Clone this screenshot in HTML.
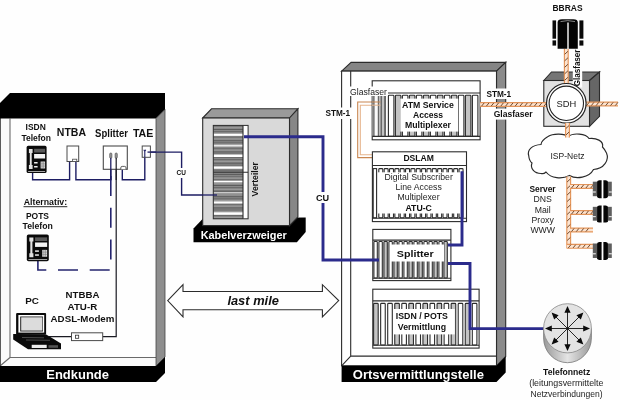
<!DOCTYPE html>
<html><head><meta charset="utf-8"><title>ADSL</title>
<style>html,body{margin:0;padding:0;background:#fff}svg{display:block}</style></head><body>
<svg width="620" height="400" viewBox="0 0 620 400" font-family="Liberation Sans, sans-serif">
<rect width="620" height="400" fill="#fefefe"/>
<defs><filter id="soft" x="0" y="0" width="100%" height="100%" filterUnits="userSpaceOnUse" color-interpolation-filters="sRGB"><feGaussianBlur stdDeviation="0.42"/></filter></defs>
<g filter="url(#soft)">
<g id="endkunde">
<polygon points="0,118.5 10,118.5 10,357 0,366" fill="#fafafa"/>
<polygon points="10,357.5 156,357.5 156,366 0,366" fill="#fafafa"/>
<path d="M10,118.5V357.5H156M10,357.5L0,366" stroke="#6a6a6a" stroke-width="1.1" fill="none"/>
<path d="M0.4,103V382" stroke="#333" stroke-width="0.9"/>
<polygon points="10,93 165,93 165,109.5 156,118.5 0,118.5 0,103" fill="#000"/>
<polygon points="156,118.5 165,109.5 165,357 156,366" fill="#8e8e8e" stroke="#444" stroke-width="0.8"/>
<polygon points="0,366 156,366 165,357 165,373 156,382 0,382" fill="#000"/>
<text x="46.3" y="378.8" font-size="13" font-weight="bold"  fill="#fff" text-anchor="start" textLength="62.7" lengthAdjust="spacingAndGlyphs" >Endkunde</text>
</g>
<g fill="none" stroke="#1d1d63" stroke-width="1.4">
<path d="M32.6,172V179.7H69.6V161.5"/>
<path d="M75.9,161.5V179.7H110.8V158"/>
<path d="M122.3,169V179.7H144.8V152"/>
<path d="M147.5,152.1H181.6V168M181.6,178V195H217"/>
<path d="M110.8,176V270H37.9V261" stroke-dasharray="20 11.7" stroke="#24246e" stroke-width="1.6"/>
</g>
<path d="M116.2,158V336.7H102.7M71.5,336.7H49" fill="none" stroke="#1a1a22" stroke-width="1.2"/>
<g transform="translate(26.6,145.8) scale(1.0,1.0)">
<rect x="0" y="0" width="20" height="27.2" rx="1.6" fill="#0a0a0a"/>
<path d="M2.3,3.2h3.7v4h-0.9v12h0.9v4h-3.7v-4h0.9v-12h-0.9z" fill="#e2e2e2"/>
<rect x="7.5" y="3" width="11" height="3.7" fill="#5a5a5a"/>
<rect x="7.5" y="8.2" width="11" height="4.5" fill="#f4f4f4"/>
<rect x="7.5" y="16.2" width="3.5" height="1.5" fill="#eee"/>
<rect x="7.5" y="20.2" width="3.5" height="1.5" fill="#eee"/>
<rect x="14" y="15.7" width="4.5" height="7" fill="#d8d8d8"/>
<path d="M15.5,15.7v7M17,15.7v7M14,18h4.5M14,20.3h4.5" stroke="#777" stroke-width="0.5"/>
<rect x="1.5" y="25.2" width="17" height="0.8" fill="#ccc"/>
</g>
<rect x="67" y="146" width="11.7" height="15.5" fill="#fff" stroke="#4a4a4a" stroke-width="1"/>
<rect x="72.6" y="159.2" width="4.2" height="2.3" fill="#fff" stroke="#4a4a4a" stroke-width="0.8"/>
<rect x="103.3" y="146" width="24" height="23.3" fill="#fff" stroke="#4a4a4a" stroke-width="1.1"/>
<rect x="109.7" y="153" width="2.2" height="5.2" rx="1" fill="#999" stroke="#444" stroke-width="0.6"/>
<rect x="115.1" y="153" width="2.2" height="5.2" rx="1" fill="#999" stroke="#444" stroke-width="0.6"/>
<path d="M110.8,158V180" stroke="#1d1d63" stroke-width="1.3"/>
<path d="M116.2,158V180" stroke="#1a1a22" stroke-width="1.2"/>
<path d="M120.8,169.3v-1.5a1.4,1.4 0 0 1 1.4,-1.4h2.4a1.4,1.4 0 0 1 1.4,1.4v1.5" fill="#fff" stroke="#333" stroke-width="0.8"/>
<rect x="142.2" y="146" width="8.2" height="11.3" fill="#fff" stroke="#4a4a4a" stroke-width="1"/>
<path d="M144.8,157.3V150.5M143.8,149.8l1,1.4l1,-1.4" stroke="#1d1d63" stroke-width="1.1" fill="none"/>
<path d="M147.5,152.1H156" stroke="#1d1d63" stroke-width="1.3"/>
<g transform="translate(26.8,234.4) scale(1.1,0.9852941176470589)">
<rect x="0" y="0" width="20" height="27.2" rx="1.6" fill="#0a0a0a"/>
<path d="M2.3,3.2h3.7v4h-0.9v12h0.9v4h-3.7v-4h0.9v-12h-0.9z" fill="#e2e2e2"/>
<rect x="7.5" y="3" width="11" height="3.7" fill="#5a5a5a"/>
<rect x="7.5" y="8.2" width="11" height="4.5" fill="#f4f4f4"/>
<rect x="7.5" y="16.2" width="3.5" height="1.5" fill="#eee"/>
<rect x="7.5" y="20.2" width="3.5" height="1.5" fill="#eee"/>
<rect x="14" y="15.7" width="4.5" height="7" fill="#d8d8d8"/>
<path d="M15.5,15.7v7M17,15.7v7M14,18h4.5M14,20.3h4.5" stroke="#777" stroke-width="0.5"/>
<rect x="1.5" y="25.2" width="17" height="0.8" fill="#ccc"/>
</g>
<g id="laptop">
<rect x="16.1" y="313.1" width="30" height="21.6" rx="1" fill="#0a0a0a"/>
<rect x="18.4" y="315" width="25.8" height="17.6" fill="#fff"/>
<rect x="20.2" y="316.5" width="22.8" height="15" fill="#222"/>
<rect x="21.2" y="317.3" width="21.2" height="13.3" fill="#dcdcdc"/>
<polygon points="13.2,334 46.2,334.4 61,343.5 61,349.3 28,349.3 13.2,339.4" fill="#0a0a0a"/>
<rect x="31.7" y="344.8" width="15" height="3.2" fill="#eee"/>
<rect x="48.5" y="345.2" width="9.5" height="2.6" fill="#555"/>
<path d="M22,337.5l22,0.3M26,340l24,0.3" stroke="#666" stroke-width="0.7"/>
</g>
<rect x="71.5" y="332.8" width="31.2" height="7.8" fill="#fff" stroke="#4a4a4a" stroke-width="1"/>
<rect x="75.4" y="335.2" width="3.3" height="3.1" fill="#fff" stroke="#333" stroke-width="0.8"/>
<text x="25.6" y="130.4" font-size="8.6" font-weight="bold"  fill="#111" text-anchor="start" textLength="20.2" lengthAdjust="spacingAndGlyphs" >ISDN</text>
<text x="21.4" y="141" font-size="8.6" font-weight="bold"  fill="#111" text-anchor="start" textLength="29.6" lengthAdjust="spacingAndGlyphs" >Telefon</text>
<text x="56.8" y="136.4" font-size="10.3" font-weight="bold"  fill="#111" text-anchor="start" textLength="29.2" lengthAdjust="spacingAndGlyphs" >NTBA</text>
<text x="95.1" y="136.5" font-size="10.3" font-weight="bold"  fill="#111" text-anchor="start" textLength="32.8" lengthAdjust="spacingAndGlyphs" >Splitter</text>
<text x="132.9" y="136.5" font-size="10.3" font-weight="bold"  fill="#111" text-anchor="start" textLength="20.4" lengthAdjust="spacingAndGlyphs" >TAE</text>
<text x="23.7" y="205.3" font-size="8.6" font-weight="bold"  fill="#111" text-anchor="start" textLength="43.5" lengthAdjust="spacingAndGlyphs" >Alternativ:</text>
<path d="M23.5,206.7H67.3" stroke="#111" stroke-width="0.9"/>
<text x="25.9" y="218.9" font-size="8.6" font-weight="bold"  fill="#111" text-anchor="start" textLength="23.1" lengthAdjust="spacingAndGlyphs" >POTS</text>
<text x="22.6" y="229.3" font-size="8.6" font-weight="bold"  fill="#111" text-anchor="start" textLength="30.3" lengthAdjust="spacingAndGlyphs" >Telefon</text>
<text x="25.2" y="303.9" font-size="9.6" font-weight="bold"  fill="#111" text-anchor="start" textLength="13.7" lengthAdjust="spacingAndGlyphs" >PC</text>
<text x="65.6" y="298.3" font-size="9.6" font-weight="bold"  fill="#111" text-anchor="start" textLength="33.8" lengthAdjust="spacingAndGlyphs" >NTBBA</text>
<text x="67.6" y="309.8" font-size="9.6" font-weight="bold"  fill="#111" text-anchor="start" textLength="29.6" lengthAdjust="spacingAndGlyphs" >ATU-R</text>
<text x="50.6" y="321.7" font-size="9.6" font-weight="bold"  fill="#111" text-anchor="start" textLength="63.8" lengthAdjust="spacingAndGlyphs" >ADSL-Modem</text>
<rect x="175" y="168" width="13" height="10" fill="#fefefe"/>
<text x="176.6" y="175.2" font-size="6.6" font-weight="bold"  fill="#111" text-anchor="start" textLength="9.4" lengthAdjust="spacingAndGlyphs" >CU</text>
<g id="kvz">
<polygon points="193.5,228.5 203,218.5 305.7,217.5 305.7,232 296.9,242.2 193.5,242.2" fill="#000"/>
<polygon points="202.7,118 211.5,108.8 297.9,108.8 289.5,118" fill="#9a9a9a" stroke="#2c2c2c" stroke-width="1.1"/>
<polygon points="289.5,118 297.9,108.8 297.9,217 289.5,225.6" fill="#878787" stroke="#2c2c2c" stroke-width="1.1"/>
<rect x="202.7" y="118" width="86.8" height="107.6" fill="#d9d9d9" stroke="#2c2c2c" stroke-width="1.1"/>
<defs><pattern id="strp" x="213" y="125.4" width="30" height="5.6" patternUnits="userSpaceOnUse"><rect width="30" height="5.6" fill="#8b8b8b"/><rect y="0.3" width="30" height="0.8" fill="#5a5a5a"/><rect y="2.2" width="30" height="0.7" fill="#a8a8a8"/><rect y="3.6" width="30" height="0.9" fill="#4c4c4c"/></pattern></defs>
<rect x="213.3" y="125.4" width="29.7" height="93.4" fill="url(#strp)"/>
<rect x="213.3" y="133.8" width="29.7" height="2.1" fill="#fff"/>
<rect x="213.3" y="144.9" width="29.7" height="1.8" fill="#e8e8e8"/>
<rect x="213.3" y="154.5" width="29.7" height="2.6" fill="#fff"/>
<rect x="213.3" y="166.5" width="29.7" height="2.3" fill="#fff"/>
<rect x="213.3" y="180.7" width="29.7" height="1.7" fill="#fff"/>
<rect x="213.3" y="192.1" width="29.7" height="1.3" fill="#d4d4d4"/>
<rect x="213.3" y="201.4" width="29.7" height="2.1" fill="#fff"/>
<rect x="213.3" y="212.3" width="29.7" height="2.5" fill="#fff"/>
<rect x="243" y="125.4" width="5.1" height="93.4" fill="#fff"/>
<path d="M213.3,172.3H248.1M243,125.4V218.8" stroke="#2c2c2c" stroke-width="1.1"/>
<rect x="213.3" y="125.4" width="34.8" height="93.4" fill="none" stroke="#2c2c2c" stroke-width="1"/>
<text x="0" y="0" font-size="8.6" font-weight="bold"  fill="#111" text-anchor="start" textLength="34.4" lengthAdjust="spacingAndGlyphs" transform="translate(257.6,196.4) rotate(-90)">Verteiler</text>
<text x="200.7" y="238.8" font-size="11" font-weight="bold"  fill="#fff" text-anchor="start" textLength="86" lengthAdjust="spacingAndGlyphs" >Kabelverzweiger</text>
</g>
<path d="M202,195H217" stroke="#1d1d63" stroke-width="1.3"/>
<polygon points="167.7,300.6 183,284.7 183,291.5 322.4,291.5 322.4,284.7 338.7,300.6 322.4,316.9 322.4,309.8 183,309.8 183,316.9" fill="#fff" stroke="#2c2c2c" stroke-width="1.1"/>
<text x="227.4" y="304.7" font-size="13" font-weight="bold" font-style="italic" fill="#111" text-anchor="start" textLength="51.5" lengthAdjust="spacingAndGlyphs" >last mile</text>
<g id="ovst">
<polygon points="341.6,71.1 351.1,62.4 505.7,62.4 496.5,71.1" fill="#858585" stroke="#2c2c2c" stroke-width="1.1"/>
<polygon points="496.5,71.1 505.7,62.4 505.7,356.5 496.5,365.8" fill="#8b8b8b" stroke="#2c2c2c" stroke-width="1.1"/>
<rect x="341.6" y="71.1" width="154.9" height="294.7" fill="#fff" stroke="#2c2c2c" stroke-width="1.1"/>
<path d="M350.7,71.1V356.1H496.5M350.7,356.1L341.6,365.8" stroke="#2c2c2c" stroke-width="1.1" fill="none"/>
<polygon points="341.6,365.8 496.5,365.8 505.7,356.5 505.7,372.5 496.5,381.9 341.6,381.9" fill="#000"/>
<text x="352.8" y="378.5" font-size="13" font-weight="bold"  fill="#fff" text-anchor="start" textLength="131.1" lengthAdjust="spacingAndGlyphs" >Ortsvermittlungstelle</text>
</g>
<path d="M373,102H357.7V157.6H373" fill="none" stroke="#c98650" stroke-width="1.1"/>
<path d="M373,105.2H360.3V154.8H373" fill="none" stroke="#e6b48c" stroke-width="1.1"/>
<g id="atm">
<rect x="372.2" y="80.8" width="107.9" height="59" fill="#fff" stroke="#2c2c2c" stroke-width="1.1"/>
<path d="M388,93H480.1" stroke="#2c2c2c" stroke-width="1.1"/>
<rect x="372.2" y="95.2" width="14" height="41.2" fill="#e4e4e4"/>
<rect x="372.2" y="95.2" width="2.60" height="41.2" fill="#7c7c7c"/>
<rect x="374.8" y="95.2" width="3.00" height="41.2" fill="#fafafa"/>
<rect x="377.8" y="95.2" width="1.50" height="41.2" fill="#686868"/>
<rect x="380.4" y="95.2" width="1.90" height="41.2" fill="#686868"/>
<rect x="382.3" y="95.2" width="1.80" height="41.2" fill="#c4c4c4"/>
<rect x="384.1" y="95.2" width="1.90" height="41.2" fill="#686868"/>
<rect x="386" y="93.4" width="2" height="43" fill="#fff"/>
<rect x="388.40" y="95.2" width="5.5" height="41.2" rx="0.8" fill="#fff" stroke="#2c2c2c" stroke-width="1.1"/>
<rect x="395.40" y="95.2" width="5.5" height="41.2" rx="0.8" fill="#c4c4c4" stroke="#2c2c2c" stroke-width="1.1"/>
<rect x="402.40" y="95.2" width="5.5" height="41.2" rx="0.8" fill="#fff" stroke="#2c2c2c" stroke-width="1.1"/>
<rect x="409.40" y="95.2" width="5.5" height="41.2" rx="0.8" fill="#c4c4c4" stroke="#2c2c2c" stroke-width="1.1"/>
<rect x="416.40" y="95.2" width="5.5" height="41.2" rx="0.8" fill="#fff" stroke="#2c2c2c" stroke-width="1.1"/>
<rect x="423.40" y="95.2" width="5.5" height="41.2" rx="0.8" fill="#c4c4c4" stroke="#2c2c2c" stroke-width="1.1"/>
<rect x="430.40" y="95.2" width="5.5" height="41.2" rx="0.8" fill="#fff" stroke="#2c2c2c" stroke-width="1.1"/>
<rect x="437.40" y="95.2" width="5.5" height="41.2" rx="0.8" fill="#c4c4c4" stroke="#2c2c2c" stroke-width="1.1"/>
<rect x="444.40" y="95.2" width="5.5" height="41.2" rx="0.8" fill="#fff" stroke="#2c2c2c" stroke-width="1.1"/>
<rect x="451.40" y="95.2" width="5.5" height="41.2" rx="0.8" fill="#c4c4c4" stroke="#2c2c2c" stroke-width="1.1"/>
<rect x="458.40" y="95.2" width="5.5" height="41.2" rx="0.8" fill="#fff" stroke="#2c2c2c" stroke-width="1.1"/>
<rect x="465.40" y="95.2" width="5.5" height="41.2" rx="0.8" fill="#c4c4c4" stroke="#2c2c2c" stroke-width="1.1"/>
<rect x="472.40" y="95.2" width="5.5" height="41.2" rx="0.8" fill="#fff" stroke="#2c2c2c" stroke-width="1.1"/>
<rect x="400.3" y="98.6" width="58" height="33" fill="#fff"/>
<path d="M372.2,136.4H480.1" stroke="#2c2c2c" stroke-width="1.1"/>
<path d="M372,102H380.5" stroke="#c98650" stroke-width="1.2" opacity="0.85"/><path d="M372,105.2H380.5" stroke="#e6b48c" stroke-width="1.2" opacity="0.85"/>
<text x="402" y="107.7" font-size="8.6" font-weight="bold"  fill="#111" text-anchor="start" textLength="51.8" lengthAdjust="spacingAndGlyphs" >ATM Service</text>
<text x="428" y="117.5" font-size="8.6" font-weight="bold"  fill="#111" text-anchor="middle" >Access</text>
<text x="405" y="127.5" font-size="8.6" font-weight="bold"  fill="#111" text-anchor="start" textLength="45.9" lengthAdjust="spacingAndGlyphs" >Multiplexer</text>
</g>
<rect x="349" y="86.5" width="39" height="9.5" fill="#fff"/>
<text x="350" y="94.9" font-size="8.7"   fill="#1c1c1c" text-anchor="start" textLength="37" lengthAdjust="spacingAndGlyphs" >Glasfaser</text>
<rect x="324" y="107.5" width="28" height="11.5" fill="#fefefe"/>
<text x="325.4" y="115.9" font-size="8.6" font-weight="bold"  fill="#111" text-anchor="start" textLength="24.7" lengthAdjust="spacingAndGlyphs" >STM-1</text>
<g id="dslam">
<rect x="372.4" y="151.8" width="94.1" height="69.8" fill="#fff" stroke="#2c2c2c" stroke-width="1.1"/>
<path d="M372.4,165.5H466.5" stroke="#2c2c2c" stroke-width="1.1"/>
<rect x="373.2" y="168.6" width="3.4" height="49.2" fill="#fff" stroke="#2c2c2c" stroke-width="1.1"/>
<rect x="378.80" y="168.6" width="4.0" height="49.20000000000002" rx="0.8" fill="#fff" stroke="#2c2c2c" stroke-width="1.1"/>
<rect x="384.15" y="168.6" width="4.0" height="49.20000000000002" rx="0.8" fill="#fff" stroke="#2c2c2c" stroke-width="1.1"/>
<rect x="389.50" y="168.6" width="4.0" height="49.20000000000002" rx="0.8" fill="#fff" stroke="#2c2c2c" stroke-width="1.1"/>
<rect x="394.85" y="168.6" width="4.0" height="49.20000000000002" rx="0.8" fill="#fff" stroke="#2c2c2c" stroke-width="1.1"/>
<rect x="400.20" y="168.6" width="4.0" height="49.20000000000002" rx="0.8" fill="#fff" stroke="#2c2c2c" stroke-width="1.1"/>
<rect x="405.55" y="168.6" width="4.0" height="49.20000000000002" rx="0.8" fill="#fff" stroke="#2c2c2c" stroke-width="1.1"/>
<rect x="410.90" y="168.6" width="4.0" height="49.20000000000002" rx="0.8" fill="#fff" stroke="#2c2c2c" stroke-width="1.1"/>
<rect x="416.25" y="168.6" width="4.0" height="49.20000000000002" rx="0.8" fill="#fff" stroke="#2c2c2c" stroke-width="1.1"/>
<rect x="421.60" y="168.6" width="4.0" height="49.20000000000002" rx="0.8" fill="#fff" stroke="#2c2c2c" stroke-width="1.1"/>
<rect x="426.95" y="168.6" width="4.0" height="49.20000000000002" rx="0.8" fill="#fff" stroke="#2c2c2c" stroke-width="1.1"/>
<rect x="432.30" y="168.6" width="4.0" height="49.20000000000002" rx="0.8" fill="#fff" stroke="#2c2c2c" stroke-width="1.1"/>
<rect x="437.65" y="168.6" width="4.0" height="49.20000000000002" rx="0.8" fill="#fff" stroke="#2c2c2c" stroke-width="1.1"/>
<rect x="443.00" y="168.6" width="4.0" height="49.20000000000002" rx="0.8" fill="#fff" stroke="#2c2c2c" stroke-width="1.1"/>
<rect x="448.35" y="168.6" width="4.0" height="49.20000000000002" rx="0.8" fill="#fff" stroke="#2c2c2c" stroke-width="1.1"/>
<rect x="453.70" y="168.6" width="4.0" height="49.20000000000002" rx="0.8" fill="#fff" stroke="#2c2c2c" stroke-width="1.1"/>
<rect x="459.05" y="168.6" width="4.0" height="49.20000000000002" rx="0.8" fill="#fff" stroke="#2c2c2c" stroke-width="1.1"/>
<rect x="378" y="172.3" width="82.4" height="41.2" fill="#fff"/>
<path d="M372.4,218.3H466.5" stroke="#2c2c2c" stroke-width="1.1"/>
<text x="403.4" y="161.3" font-size="8.6" font-weight="bold"  fill="#111" text-anchor="start" textLength="30.5" lengthAdjust="spacingAndGlyphs" >DSLAM</text>
<text x="384.5" y="179.7" font-size="8.7"   fill="#1c1c1c" text-anchor="start" textLength="68.3" lengthAdjust="spacingAndGlyphs" >Digital Subscriber</text>
<text x="418.6" y="190" font-size="8.7"   fill="#1c1c1c" text-anchor="middle" >Line Access</text>
<text x="418.6" y="200.3" font-size="8.7"   fill="#1c1c1c" text-anchor="middle" >Multiplexer</text>
<text x="405.4" y="210.8" font-size="8.6" font-weight="bold"  fill="#111" text-anchor="start" textLength="26.5" lengthAdjust="spacingAndGlyphs" >ATU-C</text>
</g>
<g id="split">
<rect x="372.8" y="229.4" width="78.1" height="51.2" fill="#fff" stroke="#2c2c2c" stroke-width="1.1"/>
<path d="M372.8,240.1H450.9" stroke="#2c2c2c" stroke-width="1.1"/>
<rect x="373.90" y="241.5" width="3.4" height="36.5" rx="0.8" fill="#fff" stroke="#2c2c2c" stroke-width="1.1"/>
<rect x="378.90" y="241.5" width="3.4" height="36.5" rx="0.8" fill="#fff" stroke="#2c2c2c" stroke-width="1.1"/>
<rect x="383.90" y="241.5" width="3.4" height="36.5" rx="0.8" fill="#c4c4c4" stroke="#2c2c2c" stroke-width="1.1"/>
<rect x="388.90" y="241.5" width="3.4" height="36.5" rx="0.8" fill="#fff" stroke="#2c2c2c" stroke-width="1.1"/>
<rect x="393.90" y="241.5" width="3.4" height="36.5" rx="0.8" fill="#c4c4c4" stroke="#2c2c2c" stroke-width="1.1"/>
<rect x="398.90" y="241.5" width="3.4" height="36.5" rx="0.8" fill="#fff" stroke="#2c2c2c" stroke-width="1.1"/>
<rect x="403.90" y="241.5" width="3.4" height="36.5" rx="0.8" fill="#fff" stroke="#2c2c2c" stroke-width="1.1"/>
<rect x="408.90" y="241.5" width="3.4" height="36.5" rx="0.8" fill="#c4c4c4" stroke="#2c2c2c" stroke-width="1.1"/>
<rect x="413.90" y="241.5" width="3.4" height="36.5" rx="0.8" fill="#fff" stroke="#2c2c2c" stroke-width="1.1"/>
<rect x="418.90" y="241.5" width="3.4" height="36.5" rx="0.8" fill="#c4c4c4" stroke="#2c2c2c" stroke-width="1.1"/>
<rect x="423.90" y="241.5" width="3.4" height="36.5" rx="0.8" fill="#fff" stroke="#2c2c2c" stroke-width="1.1"/>
<rect x="428.90" y="241.5" width="3.4" height="36.5" rx="0.8" fill="#fff" stroke="#2c2c2c" stroke-width="1.1"/>
<rect x="433.90" y="241.5" width="3.4" height="36.5" rx="0.8" fill="#c4c4c4" stroke="#2c2c2c" stroke-width="1.1"/>
<rect x="438.90" y="241.5" width="3.4" height="36.5" rx="0.8" fill="#fff" stroke="#2c2c2c" stroke-width="1.1"/>
<rect x="443.90" y="241.5" width="3.4" height="36.5" rx="0.8" fill="#c4c4c4" stroke="#2c2c2c" stroke-width="1.1"/>
<rect x="390.4" y="244.5" width="53.6" height="17" fill="#fff"/>
<path d="M372.8,278.2H450.9" stroke="#2c2c2c" stroke-width="1.1"/>
<text x="396.8" y="256.6" font-size="9.8" font-weight="bold"  fill="#111" text-anchor="start" textLength="36.9" lengthAdjust="spacingAndGlyphs" >Splitter</text>
</g>
<g id="isdn">
<rect x="372.8" y="289.2" width="106.3" height="58.9" fill="#fff" stroke="#2c2c2c" stroke-width="1.1"/>
<path d="M372.8,300.9H479.1" stroke="#2c2c2c" stroke-width="1.1"/>
<rect x="373.60" y="303.4" width="4.6" height="41.60000000000002" rx="0.8" fill="#c4c4c4" stroke="#2c2c2c" stroke-width="1.1"/>
<rect x="380.65" y="303.4" width="4.6" height="41.60000000000002" rx="0.8" fill="#fff" stroke="#2c2c2c" stroke-width="1.1"/>
<rect x="387.70" y="303.4" width="4.6" height="41.60000000000002" rx="0.8" fill="#fff" stroke="#2c2c2c" stroke-width="1.1"/>
<rect x="394.75" y="303.4" width="4.6" height="41.60000000000002" rx="0.8" fill="#c4c4c4" stroke="#2c2c2c" stroke-width="1.1"/>
<rect x="401.80" y="303.4" width="4.6" height="41.60000000000002" rx="0.8" fill="#fff" stroke="#2c2c2c" stroke-width="1.1"/>
<rect x="408.85" y="303.4" width="4.6" height="41.60000000000002" rx="0.8" fill="#c4c4c4" stroke="#2c2c2c" stroke-width="1.1"/>
<rect x="415.90" y="303.4" width="4.6" height="41.60000000000002" rx="0.8" fill="#fff" stroke="#2c2c2c" stroke-width="1.1"/>
<rect x="422.95" y="303.4" width="4.6" height="41.60000000000002" rx="0.8" fill="#c4c4c4" stroke="#2c2c2c" stroke-width="1.1"/>
<rect x="430.00" y="303.4" width="4.6" height="41.60000000000002" rx="0.8" fill="#fff" stroke="#2c2c2c" stroke-width="1.1"/>
<rect x="437.05" y="303.4" width="4.6" height="41.60000000000002" rx="0.8" fill="#c4c4c4" stroke="#2c2c2c" stroke-width="1.1"/>
<rect x="444.10" y="303.4" width="4.6" height="41.60000000000002" rx="0.8" fill="#fff" stroke="#2c2c2c" stroke-width="1.1"/>
<rect x="451.15" y="303.4" width="4.6" height="41.60000000000002" rx="0.8" fill="#c4c4c4" stroke="#2c2c2c" stroke-width="1.1"/>
<rect x="458.20" y="303.4" width="4.6" height="41.60000000000002" rx="0.8" fill="#fff" stroke="#2c2c2c" stroke-width="1.1"/>
<rect x="465.25" y="303.4" width="4.6" height="41.60000000000002" rx="0.8" fill="#c4c4c4" stroke="#2c2c2c" stroke-width="1.1"/>
<rect x="472.30" y="303.4" width="4.6" height="41.60000000000002" rx="0.8" fill="#fff" stroke="#2c2c2c" stroke-width="1.1"/>
<rect x="393.3" y="309" width="61.5" height="25.4" fill="#fff"/>
<path d="M372.8,345.2H479.1" stroke="#2c2c2c" stroke-width="1.1"/>
<text x="395.8" y="319.4" font-size="8.6" font-weight="bold"  fill="#111" text-anchor="start" textLength="52.1" lengthAdjust="spacingAndGlyphs" >ISDN / POTS</text>
<text x="397.8" y="329.9" font-size="8.6" font-weight="bold"  fill="#111" text-anchor="start" textLength="48.2" lengthAdjust="spacingAndGlyphs" >Vermittlung</text>
</g>
<g fill="none" stroke="#2b2b8c" stroke-width="2.9" stroke-linejoin="miter">
<path d="M244,136.8H323V192M323,203V260H379"/>
<path d="M462,171.3V245H448"/>
<path d="M448,263.5H470V328.6H544"/>
</g>
<rect x="315" y="192" width="16" height="11" fill="#fefefe"/>
<text x="316" y="201.2" font-size="8.8" font-weight="bold"  fill="#111" text-anchor="start" textLength="13.2" lengthAdjust="spacingAndGlyphs" >CU</text>
<g id="sdh">
<polygon points="543.8,80.5 551.5,72 599.5,72 589.5,80.5" fill="#757575" stroke="#2c2c2c" stroke-width="1.1"/>
<polygon points="589.5,80.5 599.5,72 599.5,116.3 589.5,126.3" fill="#666" stroke="#2c2c2c" stroke-width="1.1"/>
<rect x="543.8" y="80.5" width="45.7" height="45.8" fill="#e2e2e2" stroke="#2c2c2c" stroke-width="1.1"/>
</g>
<rect x="480.1" y="102.6" width="66.89999999999998" height="3.8" fill="#fbe3d0"/>
<path d="M480.1,102.6H547M480.1,106.4H547" stroke="#e5955a" stroke-width="1.15" fill="none"/>
<path d="M481.6,106.10000000000001l2.6,-3.1999999999999997M486.4,106.10000000000001l2.6,-3.1999999999999997M491.2,106.10000000000001l2.6,-3.1999999999999997M496.0,106.10000000000001l2.6,-3.1999999999999997M500.8,106.10000000000001l2.6,-3.1999999999999997M505.6,106.10000000000001l2.6,-3.1999999999999997M510.4,106.10000000000001l2.6,-3.1999999999999997M515.2,106.10000000000001l2.6,-3.1999999999999997M520.0,106.10000000000001l2.6,-3.1999999999999997M524.8,106.10000000000001l2.6,-3.1999999999999997M529.6,106.10000000000001l2.6,-3.1999999999999997M534.4,106.10000000000001l2.6,-3.1999999999999997M539.2,106.10000000000001l2.6,-3.1999999999999997M544.0,106.10000000000001l2.6,-3.1999999999999997" stroke="#6a4326" stroke-width="0.95" fill="none"/>
<rect x="585" y="102.1" width="33" height="3.8" fill="#fbe3d0"/>
<path d="M585,102.1H618M585,105.9H618" stroke="#e5955a" stroke-width="1.15" fill="none"/>
<path d="M586.5,105.60000000000001l2.6,-3.1999999999999997M591.3,105.60000000000001l2.6,-3.1999999999999997M596.1,105.60000000000001l2.6,-3.1999999999999997M600.9,105.60000000000001l2.6,-3.1999999999999997M605.7,105.60000000000001l2.6,-3.1999999999999997M610.5,105.60000000000001l2.6,-3.1999999999999997M615.3,105.60000000000001l2.6,-3.1999999999999997" stroke="#6a4326" stroke-width="0.95" fill="none"/>
<rect x="564.4" y="48.8" width="3.8" height="35.2" fill="#fbe3d0"/>
<path d="M564.4,48.8V84M568.1999999999999,48.8V84" stroke="#e5955a" stroke-width="1.15" fill="none"/>
<path d="M564.6999999999999,54.3l3.1999999999999997,-3M564.6999999999999,60.8l3.1999999999999997,-3M564.6999999999999,67.3l3.1999999999999997,-3M564.6999999999999,73.8l3.1999999999999997,-3M564.6999999999999,80.3l3.1999999999999997,-3" stroke="#6a4326" stroke-width="0.95" fill="none"/>
<rect x="565.6" y="122" width="3.8" height="16" fill="#fbe3d0"/>
<path d="M565.6,122V138M569.4,122V138" stroke="#e5955a" stroke-width="1.15" fill="none"/>
<path d="M565.9,127.5l3.1999999999999997,-3M565.9,134.0l3.1999999999999997,-3" stroke="#6a4326" stroke-width="0.95" fill="none"/>
<rect x="572.8" y="49" width="9.4" height="38.5" fill="#fefefe"/>
<text x="0" y="0" font-size="8.6" font-weight="bold"  fill="#111" text-anchor="start" textLength="36.8" lengthAdjust="spacingAndGlyphs" transform="translate(580.3,86.3) rotate(-90)">Glasfaser</text>
<circle cx="566.3" cy="103.3" r="19.8" fill="#fff" stroke="#222" stroke-width="1.2"/>
<circle cx="566.3" cy="103.3" r="17.2" fill="#fff" stroke="#222" stroke-width="1.1"/>
<text x="566.3" y="107" font-size="9.4"   fill="#222" text-anchor="middle" >SDH</text>
<rect x="485" y="88.5" width="28" height="10.5" fill="#fefefe"/>
<text x="486.4" y="97.4" font-size="8.6" font-weight="bold"  fill="#111" text-anchor="start" textLength="24.8" lengthAdjust="spacingAndGlyphs" >STM-1</text>
<rect x="492.5" y="108.6" width="41" height="11" fill="#fefefe"/>
<text x="493.7" y="117.3" font-size="8.6" font-weight="bold"  fill="#111" text-anchor="start" textLength="39" lengthAdjust="spacingAndGlyphs" >Glasfaser</text>
<text x="552.5" y="10.7" font-size="8.6" font-weight="bold"  fill="#111" text-anchor="start" textLength="30.1" lengthAdjust="spacingAndGlyphs" >BBRAS</text>
<g id="bbras">
<rect x="552.5" y="20.4" width="3.6" height="18.3" fill="#0a0a0a"/><rect x="552.5" y="40.4" width="3.6" height="5.2" fill="#0a0a0a"/>
<rect x="579.4" y="20.4" width="4" height="18.3" fill="#0a0a0a"/><rect x="579.4" y="40.4" width="4" height="5.2" fill="#0a0a0a"/>
<path d="M557.6,22.5Q557.6,19.2 562,19.2H573.4Q577.8,19.2 577.8,22.5V48.8H557.6z" fill="#050505"/>
<rect x="567.3" y="22.5" width="1.4" height="26.5" fill="#fff"/>
<path d="M560.5,21.6Q567.7,19.6 575,21.6" stroke="#bbb" stroke-width="0.7" fill="none"/>
</g>
<path d="M568.5,136.5 C565,133.5 553,133 548,136.5 C543,139.5 541,142 541,144.5 C532,145 527,150 528.7,155.5 C529,159 530,161.5 532,163 C530,168 534,173.5 541,173.5 C543,174 545,173 546,172 C551,178.5 562,179.5 569.5,175.5 C576,179.5 589,178 593.5,169.5 C604,169 609.5,160 606.5,153 C605,150 603.5,148 602.5,147 C604,141 596,137.5 589,138.5 C586,133.5 573,132.5 568.5,136.5z" fill="#fff" stroke="#2a2a2a" stroke-width="1.15"/>
<rect x="565.6" y="123" width="3.8" height="14.599999999999994" fill="#fbe3d0"/>
<path d="M565.6,123V137.6M569.4,123V137.6" stroke="#e5955a" stroke-width="1.15" fill="none"/>
<path d="M565.9,128.5l3.1999999999999997,-3M565.9,135.0l3.1999999999999997,-3" stroke="#6a4326" stroke-width="0.95" fill="none"/>
<text x="550.5" y="159.3" font-size="9.2"   fill="#1c1c1c" text-anchor="start" textLength="34" lengthAdjust="spacingAndGlyphs" >ISP-Netz</text>
<rect x="566.8000000000001" y="176.5" width="3.8" height="71.69999999999999" fill="#fbe3d0"/>
<path d="M566.8000000000001,176.5V248.2M570.6,176.5V248.2" stroke="#e5955a" stroke-width="1.15" fill="none"/>
<path d="M567.1,182.0l3.1999999999999997,-3M567.1,188.5l3.1999999999999997,-3M567.1,195.0l3.1999999999999997,-3M567.1,201.5l3.1999999999999997,-3M567.1,208.0l3.1999999999999997,-3M567.1,214.5l3.1999999999999997,-3M567.1,221.0l3.1999999999999997,-3M567.1,227.5l3.1999999999999997,-3M567.1,234.0l3.1999999999999997,-3M567.1,240.5l3.1999999999999997,-3M567.1,247.0l3.1999999999999997,-3" stroke="#6a4326" stroke-width="0.95" fill="none"/>
<rect x="570" y="184.5" width="23.5" height="3.8" fill="#fbe3d0"/>
<path d="M570,184.5H593.5M570,188.3H593.5" stroke="#e5955a" stroke-width="1.15" fill="none"/>
<path d="M571.5,188.0l2.6,-3.1999999999999997M576.3,188.0l2.6,-3.1999999999999997M581.1,188.0l2.6,-3.1999999999999997M585.9,188.0l2.6,-3.1999999999999997M590.7,188.0l2.6,-3.1999999999999997" stroke="#6a4326" stroke-width="0.95" fill="none"/>
<rect x="570" y="210.6" width="23.5" height="3.8" fill="#fbe3d0"/>
<path d="M570,210.6H593.5M570,214.4H593.5" stroke="#e5955a" stroke-width="1.15" fill="none"/>
<path d="M571.5,214.1l2.6,-3.1999999999999997M576.3,214.1l2.6,-3.1999999999999997M581.1,214.1l2.6,-3.1999999999999997M585.9,214.1l2.6,-3.1999999999999997M590.7,214.1l2.6,-3.1999999999999997" stroke="#6a4326" stroke-width="0.95" fill="none"/>
<rect x="570" y="228.1" width="23" height="3.8" fill="#fbe3d0"/>
<path d="M570,228.1H593M570,231.9H593" stroke="#e5955a" stroke-width="1.15" fill="none"/>
<path d="M571.5,231.6l2.6,-3.1999999999999997M576.3,231.6l2.6,-3.1999999999999997M581.1,231.6l2.6,-3.1999999999999997M585.9,231.6l2.6,-3.1999999999999997" stroke="#6a4326" stroke-width="0.95" fill="none"/>
<rect x="566.8" y="244.4" width="26.700000000000045" height="3.8" fill="#fbe3d0"/>
<path d="M566.8,244.4H593.5M566.8,248.20000000000002H593.5" stroke="#e5955a" stroke-width="1.15" fill="none"/>
<path d="M568.3,247.9l2.6,-3.1999999999999997M573.1,247.9l2.6,-3.1999999999999997M577.9,247.9l2.6,-3.1999999999999997M582.7,247.9l2.6,-3.1999999999999997M587.5,247.9l2.6,-3.1999999999999997" stroke="#6a4326" stroke-width="0.95" fill="none"/>
<g transform="translate(592.8,180.2) scale(1.0,1.0)">
<rect x="0" y="1.5" width="4.6" height="14.5" fill="#5e5e5e"/>
<rect x="14.6" y="1.5" width="4.4" height="14.5" fill="#5e5e5e"/>
<rect x="0" y="11.3" width="3" height="1" fill="#fff"/>
<rect x="16" y="11.3" width="3" height="1" fill="#fff"/>
<path d="M4.3,1.4Q4.6,0.1 6.6,0H8.8V18H6.6Q4.6,17.9 4.3,16.6z" fill="#050505"/>
<path d="M15.1,1.4Q14.8,0.1 12.8,0H10.6V18H12.8Q14.8,17.9 15.1,16.6z" fill="#050505"/>
</g>
<g transform="translate(592.8,205.4) scale(1.0,0.9555555555555555)">
<rect x="0" y="1.5" width="4.6" height="14.5" fill="#5e5e5e"/>
<rect x="14.6" y="1.5" width="4.4" height="14.5" fill="#5e5e5e"/>
<rect x="0" y="11.3" width="3" height="1" fill="#fff"/>
<rect x="16" y="11.3" width="3" height="1" fill="#fff"/>
<path d="M4.3,1.4Q4.6,0.1 6.6,0H8.8V18H6.6Q4.6,17.9 4.3,16.6z" fill="#050505"/>
<path d="M15.1,1.4Q14.8,0.1 12.8,0H10.6V18H12.8Q14.8,17.9 15.1,16.6z" fill="#050505"/>
</g>
<g transform="translate(592.8,242) scale(1.0,1.0)">
<rect x="0" y="1.5" width="4.6" height="14.5" fill="#5e5e5e"/>
<rect x="14.6" y="1.5" width="4.4" height="14.5" fill="#5e5e5e"/>
<rect x="0" y="11.3" width="3" height="1" fill="#fff"/>
<rect x="16" y="11.3" width="3" height="1" fill="#fff"/>
<path d="M4.3,1.4Q4.6,0.1 6.6,0H8.8V18H6.6Q4.6,17.9 4.3,16.6z" fill="#050505"/>
<path d="M15.1,1.4Q14.8,0.1 12.8,0H10.6V18H12.8Q14.8,17.9 15.1,16.6z" fill="#050505"/>
</g>
<text x="529.4" y="192.3" font-size="8.6" font-weight="bold"  fill="#111" text-anchor="start" textLength="26.2" lengthAdjust="spacingAndGlyphs" >Server</text>
<text x="542.7" y="202.4" font-size="8.7"   fill="#1c1c1c" text-anchor="middle" >DNS</text>
<text x="542.7" y="212.6" font-size="8.7"   fill="#1c1c1c" text-anchor="middle" >Mail</text>
<text x="542.7" y="222.7" font-size="8.7"   fill="#1c1c1c" text-anchor="middle" >Proxy</text>
<text x="542.7" y="233.2" font-size="8.7"   fill="#1c1c1c" text-anchor="middle" >WWW</text>
<defs><linearGradient id="cyl" x1="0" x2="1" y1="0" y2="0"><stop offset="0" stop-color="#999"/><stop offset="0.5" stop-color="#e4e4e4"/><stop offset="1" stop-color="#9a9a9a"/></linearGradient></defs>
<path d="M543.6,328.5V337.9A23.9,24.8 0 0 0 591.4,337.9V328.5z" fill="url(#cyl)" stroke="#777" stroke-width="0.8"/>
<ellipse cx="567.5" cy="328.3" rx="23.9" ry="24.6" fill="#e3e3e3" stroke="#888" stroke-width="0.8"/>
<path d="M567.5,328.5L588.5,328.5" stroke="#111" stroke-width="0.9"/>
<polygon points="590.0,328.5 583.2,331.6 583.2,325.4" fill="#0a0a0a"/>
<path d="M567.5,328.5L582.3,343.3" stroke="#111" stroke-width="0.9"/>
<polygon points="583.4,344.4 576.4,341.8 580.8,337.4" fill="#0a0a0a"/>
<path d="M567.5,328.5L567.5,349.5" stroke="#111" stroke-width="0.9"/>
<polygon points="567.5,351.0 564.4,344.2 570.6,344.2" fill="#0a0a0a"/>
<path d="M567.5,328.5L552.7,343.3" stroke="#111" stroke-width="0.9"/>
<polygon points="551.6,344.4 554.2,337.4 558.6,341.8" fill="#0a0a0a"/>
<path d="M567.5,328.5L546.5,328.5" stroke="#111" stroke-width="0.9"/>
<polygon points="545.0,328.5 551.8,325.4 551.8,331.6" fill="#0a0a0a"/>
<path d="M567.5,328.5L552.7,313.7" stroke="#111" stroke-width="0.9"/>
<polygon points="551.6,312.6 558.6,315.2 554.2,319.6" fill="#0a0a0a"/>
<path d="M567.5,328.5L567.5,307.5" stroke="#111" stroke-width="0.9"/>
<polygon points="567.5,306.0 570.6,312.8 564.4,312.8" fill="#0a0a0a"/>
<path d="M567.5,328.5L582.3,313.7" stroke="#111" stroke-width="0.9"/>
<polygon points="583.4,312.6 580.8,319.6 576.4,315.2" fill="#0a0a0a"/>
<text x="543.1" y="375" font-size="8.6" font-weight="bold"  fill="#111" text-anchor="start" textLength="47.2" lengthAdjust="spacingAndGlyphs" >Telefonnetz</text>
<text x="529.2" y="385.6" font-size="8.7"   fill="#1c1c1c" text-anchor="start" textLength="74.3" lengthAdjust="spacingAndGlyphs" >(leitungsvermittelte</text>
<text x="530.5" y="396.8" font-size="8.7"   fill="#1c1c1c" text-anchor="start" textLength="72.2" lengthAdjust="spacingAndGlyphs" >Netzverbindungen)</text>
</g></svg></body></html>
